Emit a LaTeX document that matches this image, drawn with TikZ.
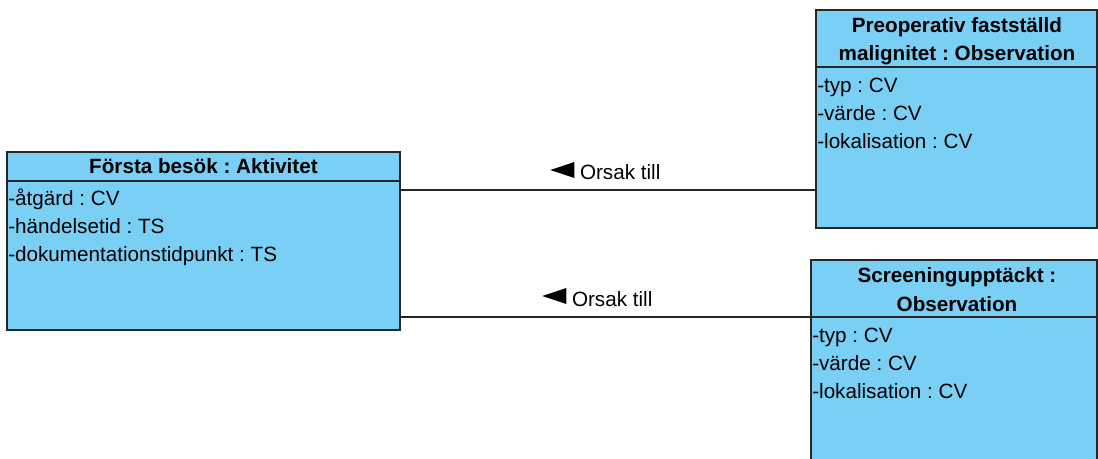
\documentclass[tikz,border=0pt]{standalone}
\usepackage{fontspec}
\setmainfont{Liberation Sans}
\usetikzlibrary{fit}
\frenchspacing

\definecolor{classblue}{RGB}{122,207,245}
\tikzset{
  classbox/.style={draw=black!85,fill=classblue,line width=1.1pt,inner sep=0pt},
  divider/.style={draw=black!85,line width=1.1pt},
  title/.style={font=\fontsize{15.5}{21}\selectfont\bfseries,anchor=base,inner sep=0pt},
  attr/.style={anchor=base west,inner sep=0pt},
  assoc/.style={draw=black!85,line width=0.9pt},
}
\newcommand{\navarrow}{\tikz[baseline=0pt]\fill (0,7.5pt) -- (18pt,13.5pt) -- (18pt,1.5pt) -- cycle;}

\begin{document}
\begin{tikzpicture}[x=0.75pt,y=-0.75pt,font=\fontsize{15.5}{21}\selectfont]
\clip (0,0) rectangle (1098,459);

% classes:
\node[classbox,fit={(7,152) (400,330)}] (forsta) {};
\node[classbox,fit={(816,10) (1097,228)}] (preop) {};
\node[classbox,fit={(811,260) (1097,480)}] (screen) {};
\draw[divider] (forsta.west |- 0,181) -- (forsta.east |- 0,181);
\draw[divider] (preop.west |- 0,67) -- (preop.east |- 0,67);
\draw[divider] (screen.west |- 0,317) -- (screen.east |- 0,317);

% Första besök
\node[title] (forsta-name) at (203.5,174) {Första besök : Aktivitet};
\node[attr] (forsta-a1) at (8,206) {-åtgärd : CV};
\node[attr] (forsta-a2) at (8,234) {-händelsetid : TS};
\node[attr] (forsta-a3) at (8,262) {-dokumentationstidpunkt : TS};

% Preoperativ fastställd malignitet
\node[title] (preop-name1) at (957,33) {Preoperativ fastställd};
\node[title] (preop-name2) at (957,61) {malignitet : Observation};
\node[attr] (preop-a1) at (817,93) {-typ : CV};
\node[attr] (preop-a2) at (817,121) {-värde : CV};
\node[attr] (preop-a3) at (817,149) {-lokalisation : CV};

% Screeningupptäckt
\node[title] (screen-name1) at (957,283) {Screeningupptäckt :};
\node[title] (screen-name2) at (957,311) {Observation};
\node[attr] (screen-a1) at (812,342) {-typ : CV};
\node[attr] (screen-a2) at (812,370) {-värde : CV};
\node[attr] (screen-a3) at (812,398) {-lokalisation : CV};

% associations:
\draw[assoc] (forsta.east |- 0,190) -- (preop.west |- 0,190);
\draw[assoc] (forsta.east |- 0,317) -- (screen.west |- 0,317);
\node[attr] (orsak1) at (550,180) {\navarrow\ Orsak till};
\node[attr] (orsak2) at (542,306) {\navarrow\ Orsak till};

\end{tikzpicture}
\end{document}
